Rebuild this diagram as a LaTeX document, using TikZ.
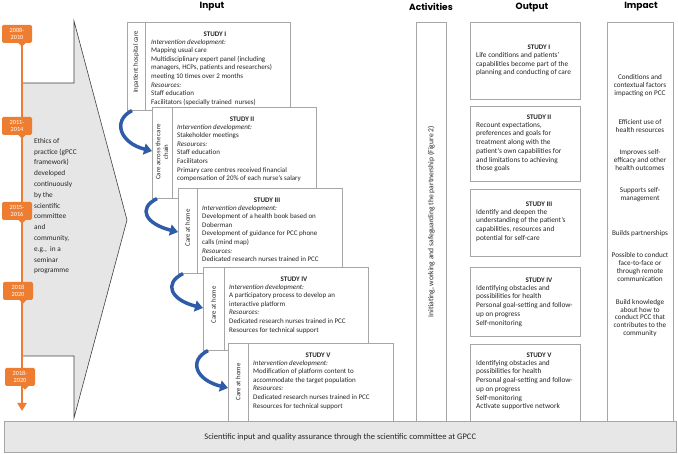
\documentclass[tikz,border=0pt]{standalone}
\usepackage{fontspec}
\setmainfont{Carlito}
\newfontfamily\hdrfont{Poppins}
\usetikzlibrary{arrows.meta,calc}
\definecolor{orng}{HTML}{ED7D31}
\definecolor{bgray}{HTML}{A6A6A6}
\definecolor{arrgray}{HTML}{E6E6E6}
\definecolor{arredge}{HTML}{404040}
\definecolor{barfill}{HTML}{E7E7E7}
\definecolor{txt}{HTML}{262626}
\definecolor{arrblue}{HTML}{2F5CA8}
\begin{document}
\begin{tikzpicture}[x=1pt,y=-1pt,
  box/.style={draw=bgray, line width=0.6pt, fill=white, inner sep=0, anchor=north west},
  divline/.style={draw=bgray, line width=0.6pt},
  body/.style={font=\fontsize{7.0}{8.6}\selectfont, text=txt, align=left, anchor=north west, inner sep=0},
  obody/.style={font=\fontsize{7.3}{8.7}\selectfont, text=txt, align=left, anchor=north west, inner sep=0},
  ttl/.style={font=\fontsize{7.0}{8.6}\selectfont\bfseries, text=txt, inner sep=0},
  side/.style={font=\fontsize{6.8}{7.8}\selectfont, text=txt, rotate=90, align=center, inner sep=0},
  hdr/.style={font=\hdrfont\bfseries\fontsize{9}{10}\selectfont, text=black, inner sep=0},
  yr/.style={fill=orng, rounded corners=1.5pt, text=white, font=\fontsize{6.3}{7.3}\selectfont, align=center, minimum width=30, minimum height=18, inner sep=0},
  imp/.style={font=\fontsize{7.2}{7.9}\selectfont, text=txt, align=center, inner sep=0},
  bluearr/.style={draw=arrblue, line width=3.5pt, -{Triangle[width=11pt,length=8pt]}},
]
\useasboundingbox (0,0) rectangle (678,454);

% headers
\node[hdr] (hin) at (212,7) {Input};
\node[hdr] (hact) at (431,7) {Activities};
\node[hdr] (hout) at (532,7) {Output};
\node[hdr] (himp) at (641,7) {Impact};

% big gray arrow
\draw[fill=arrgray, draw=arredge, line width=0.6pt] (22,83) -- (74,83) -- (74,21) -- (127,220) -- (74,418) -- (74,356) -- (22,356) -- cycle;
\node[font=\fontsize{7.3}{10.8}\selectfont, text=txt, align=left, anchor=north west, inner sep=0] (ethics) at (34,138) {Ethics of\\practice (gPCC\\framework)\\developed\\continuously\\by the\\scientific\\committee\\and\\community,\\e.g.,\ \ in a\\seminar\\programme};

% timeline
\coordinate (tltop) at (22,36);
\coordinate (tlend) at (22,411);
\draw[orng, line width=2.5pt, -{Triangle[width=9pt,length=8pt]}] (tltop) -- (tlend);
\node[yr] (y1) at (17,34) {2008-\\2010};
\node[yr] (y2) at (17,126) {2011-\\2014};
\node[yr] (y3) at (17,211) {2015-\\2016};
\node[yr] (y4) at (18,291) {2018\\2020};
\node[yr] (y5) at (20,377) {2018-\\2020};
\foreach \y in {y1,y2,y3,y4,y5}{
  \fill[orng] ($(\y.south)+(1,-0.5)$) -- ++(8,0) -- ++(-4,4) -- cycle;
}

% Study I
\node[box, minimum width=163, minimum height=88] (s1) at (127,22) {};
\draw[divline] ($(s1.north west)+(18,0)$) -- ($(s1.south west)+(18,0)$);
\node[side] (l1) at (136,62) {Inpatient hospital care};
\node[ttl] (t1) at (215,34) {STUDY I};
\node[body] (b1) at (151,39) {\textit{Intervention development:}\\Mapping usual care\\Multidisciplinary expert panel (including\\managers, HCPs, patients and researchers)\\meeting 10 times over 2 months\\\textit{Resources:}\\Staff education\\Facilitators (specially trained\ \ nurses)};

% Study II
\node[box, minimum width=164, minimum height=91] (s2) at (152,107) {};
\draw[divline] ($(s2.north west)+(20,0)$) -- ($(s2.south west)+(20,0)$);
\node[side] (l2) at (162,152) {Care across the care\\chain};
\node[ttl] (t2) at (242,119) {STUDY II};
\node[body] (b2) at (177,124) {\textit{Intervention development:}\\Stakeholder meetings\\\textit{Resources:}\\Staff education\\Facilitators\\Primary care centres received financial\\compensation of 20\% of each nurse's salary};

% Study III
\node[box, minimum width=164, minimum height=85] (s3) at (178,188) {};
\draw[divline] ($(s3.north west)+(19,0)$) -- ($(s3.south west)+(19,0)$);
\node[side] (l3) at (187.5,228) {Care at home};
\node[ttl] (t3) at (267,200) {STUDY III};
\node[body] (b3) at (202,205) {\textit{Intervention development:}\\Development of a health book based on\\Doberman\\Development of guidance for PCC phone\\calls (mind map)\\\textit{Resources:}\\Dedicated research nurses trained in PCC};

% Study IV
\node[box, minimum width=165, minimum height=83] (s4) at (203,267) {};
\draw[divline] ($(s4.north west)+(21,0)$) -- ($(s4.south west)+(21,0)$);
\node[side] (l4) at (213.5,305) {Care at home};
\node[ttl] (t4) at (294,279) {STUDY IV};
\node[body] (b4) at (229,284) {\textit{Intervention development:}\\A participatory process to develop an\\interactive platform\\\textit{Resources:}\\Dedicated research nurses trained in PCC\\Resources for technical support};

% Study V
\node[box, minimum width=165, minimum height=78] (s5) at (228,343) {};
\draw[divline] ($(s5.north west)+(20,0)$) -- ($(s5.south west)+(20,0)$);
\node[side] (l5) at (238,382) {Care at home};
\node[ttl] (t5) at (318,355) {STUDY V};
\node[body] (b5) at (253,360) {\textit{Intervention development:}\\Modification of platform content to\\accommodate the target population\\\textit{Resources:}\\Dedicated research nurses trained in PCC\\Resources for technical support};

% blue curved arrows
\draw[bluearr] ($(s1.south west)+(5,0)$) .. controls +(-20,10) and +(-32,-8) .. ($(s2.north west)+(0,44)$);
\draw[bluearr] ($(s2.south west)+(5,0)$) .. controls +(-20,10) and +(-32,-8) .. ($(s3.north west)+(0,44)$);
\draw[bluearr] ($(s3.south west)+(5,0)$) .. controls +(-20,10) and +(-32,-8) .. ($(s4.north west)+(0,41)$);
\draw[bluearr] ($(s4.south west)+(5,0)$) .. controls +(-20,10) and +(-32,-8) .. ($(s5.north west)+(0,45)$);

% Activities
\node[box, minimum width=30, minimum height=399] (act) at (416,22) {};
\node[side, font=\fontsize{7.6}{8.6}\selectfont] (actt) at (act.center) {Initiating, working and safeguarding the partnership (Figure 2)};

% Outputs
\node[box, minimum width=110, minimum height=77] (o1) at (470,22) {};
\node[ttl] (ot1) at (539,47) {STUDY I};
\node[obody] (ob1) at (476,52) {Life conditions and patients'\\capabilities become part of the\\planning and conducting of care};

\node[box, minimum width=110, minimum height=75] (o2) at (470,106) {};
\node[ttl] (ot2) at (539,117) {STUDY II};
\node[obody] (ob2) at (476,122) {Recount expectations,\\preferences and goals for\\treatment along with the\\patient's own capabilities for\\and limitations to achieving\\those goals};

\node[box, minimum width=110, minimum height=67] (o3) at (470,189) {};
\node[ttl] (ot3) at (539,204) {STUDY III};
\node[obody] (ob3) at (476,209) {Identify and deepen the\\understanding of the patient's\\capabilities, resources and\\potential for self-care};

\node[box, minimum width=110, minimum height=69] (o4) at (470,267) {};
\node[ttl] (ot4) at (539,280) {STUDY IV};
\node[obody] (ob4) at (476,285) {Identifying obstacles and\\possibilities for health\\Personal goal-setting and follow-\\up on progress\\Self-monitoring};

\node[box, minimum width=110, minimum height=77] (o5) at (470,344) {};
\node[ttl] (ot5) at (539,355) {STUDY V};
\node[obody] (ob5) at (476,360) {Identifying obstacles and\\possibilities for health\\Personal goal-setting and follow-\\up on progress\\Self-monitoring\\Activate supportive network};

% Impact
\node[box, minimum width=66, minimum height=399] (imp) at (607,22) {};
\node[imp] (i1) at (640,86) {Conditions and\\contextual factors\\impacting on PCC};
\node[imp] (i2) at (640,126) {Efficient use of\\health resources};
\node[imp] (i3) at (640,160) {Improves self-\\efficacy and other\\health outcomes};
\node[imp] (i4) at (640,195) {Supports self-\\management};
\node[imp] (i5) at (640,234) {Builds partnerships};
\node[imp] (i6) at (640,267) {Possible to conduct\\face-to-face or\\through remote\\communication};
\node[imp] (i7) at (640,318) {Build knowledge\\about how to\\conduct PCC that\\contributes to the\\community};

% bottom bar
\node[draw=bgray, fill=barfill, line width=0.6pt, minimum width=672, minimum height=31, anchor=north west, inner sep=0] (bar) at (4,421) {};
\node[font=\fontsize{8.5}{10}\selectfont, text=txt, inner sep=0] (bart) at (bar.center) {Scientific input and quality assurance through the scientific committee at GPCC};
\end{tikzpicture}
\end{document}
